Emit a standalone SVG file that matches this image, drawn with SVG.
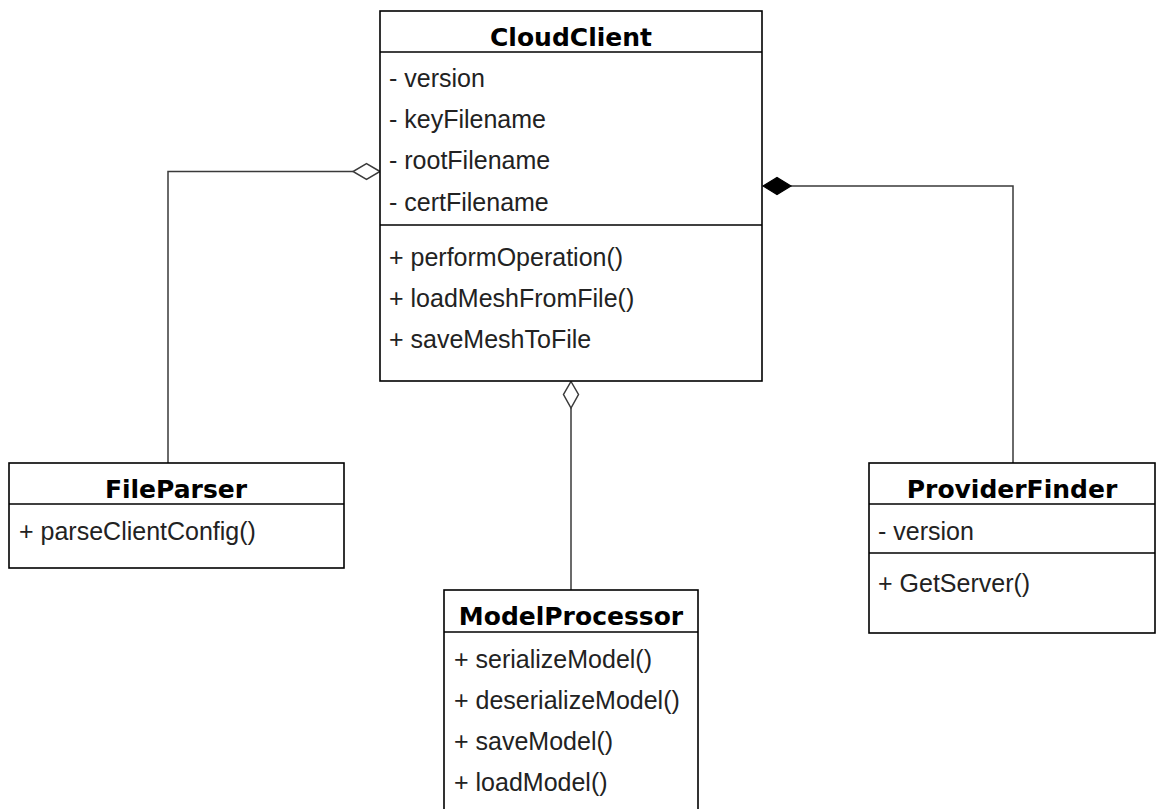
<svg xmlns="http://www.w3.org/2000/svg" width="1157" height="809" viewBox="0 0 1157 809">
  <style>
    .box { fill: #ffffff; stroke: #000000; stroke-width: 1.6; }
    .sep { stroke: #000000; stroke-width: 1.6; }
    .title { font-family: "DejaVu Sans", Verdana, sans-serif; font-weight: bold; font-size: 25px; fill: #000000; text-anchor: middle; }
    .member { font-family: "Liberation Sans", Arial, sans-serif; font-size: 25px; fill: #222222; }
    .link { fill: none; stroke: #3a3a3a; stroke-width: 1.5; }
    .agg { fill: #ffffff; stroke: #3a3a3a; stroke-width: 1.5; }
    .comp { fill: #000000; stroke: #000000; stroke-width: 1.2; }
  </style>
  <rect x="0" y="0" width="1157" height="809" fill="#ffffff"/>

  <!-- associations between the classes -->
  <g id="connectors">
    <path class="link" d="M168,463 V171.5 H353"/>
    <polygon class="agg" points="380,171.5 366.5,163.5 353,171.5 366.5,179.5"/>
    <path class="link" d="M791,186 H1013 V463"/>
    <polygon class="comp" points="763,186 777,177.5 791,186 777,194.5"/>
    <path class="link" d="M571,408 V590"/>
    <polygon class="agg" points="571,381.5 578.5,394.5 571,408 563.5,394.5"/>
  </g>

  <g id="CloudClient">
    <rect class="box" x="380" y="11" width="382" height="370"/>
    <line class="sep" x1="380" y1="52" x2="762" y2="52"/>
    <line class="sep" x1="380" y1="225" x2="762" y2="225"/>
    <text class="title" x="571" y="46">CloudClient</text>
    <text class="member" x="389" y="87">- version</text>
    <text class="member" x="389" y="128">- keyFilename</text>
    <text class="member" x="389" y="169">- rootFilename</text>
    <text class="member" x="389" y="211">- certFilename</text>
    <text class="member" x="389" y="266">+ performOperation()</text>
    <text class="member" x="389" y="307">+ loadMeshFromFile()</text>
    <text class="member" x="389" y="348">+ saveMeshToFile</text>
  </g>

  <g id="FileParser">
    <rect class="box" x="9" y="463" width="335" height="105"/>
    <line class="sep" x1="9" y1="504" x2="344" y2="504"/>
    <text class="title" x="176" y="498">FileParser</text>
    <text class="member" x="19" y="540">+ parseClientConfig()</text>
  </g>

  <g id="ProviderFinder">
    <rect class="box" x="869" y="463" width="286" height="170"/>
    <line class="sep" x1="869" y1="504" x2="1155" y2="504"/>
    <line class="sep" x1="869" y1="553" x2="1155" y2="553"/>
    <text class="title" x="1012" y="498">ProviderFinder</text>
    <text class="member" x="878" y="540">- version</text>
    <text class="member" x="878" y="592">+ GetServer()</text>
  </g>

  <g id="ModelProcessor">
    <rect class="box" x="444" y="590" width="254" height="240"/>
    <line class="sep" x1="444" y1="632" x2="698" y2="632"/>
    <text class="title" x="571" y="625">ModelProcessor</text>
    <text class="member" x="454" y="668">+ serializeModel()</text>
    <text class="member" x="454" y="709">+ deserializeModel()</text>
    <text class="member" x="454" y="750">+ saveModel()</text>
    <text class="member" x="454" y="791">+ loadModel()</text>
  </g>
</svg>
